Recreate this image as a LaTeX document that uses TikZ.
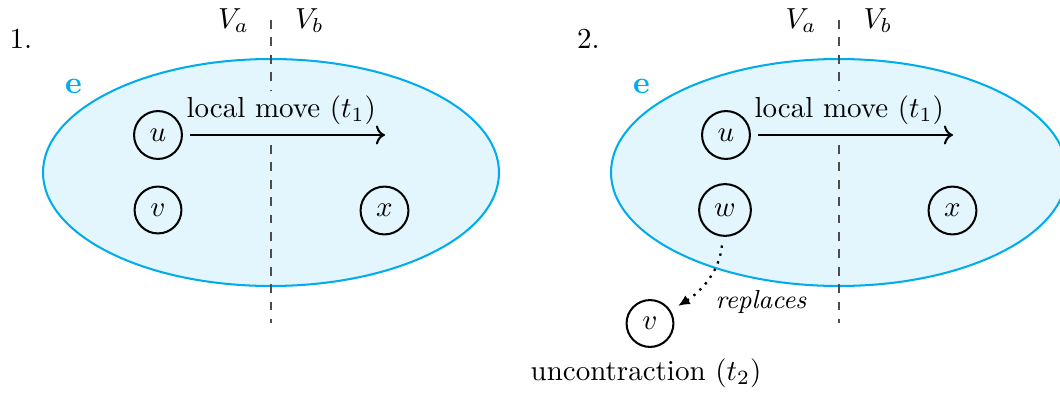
\documentclass[tikz,border=0pt]{standalone}
\usetikzlibrary{arrows.meta}
\definecolor{eblue}{RGB}{0,172,236}
\begin{document}
\begin{tikzpicture}[x=0.3448pt,y=-0.3448pt,
  vert/.style={circle,draw,line width=0.7pt,inner sep=3.33pt},
  hyper/.style={draw=eblue,fill=eblue!11,line width=0.7pt},
  sepline/.style={dashed,line width=0.5pt,draw=black!70},
  move/.style={->,line width=0.7pt,shorten <=2.4pt},
  repl/.style={dotted,line width=0.8pt,-{Latex[length=4pt,width=3.6pt]},shorten <=3pt,shorten >=3pt},
  lbl/.style={anchor=base,inner sep=0pt},
  elbl/.style={lbl,text=eblue,font=\fontsize{11}{13}\selectfont},
]
\useasboundingbox (0,0) rectangle (1060,395);
\clip (0,0) rectangle (1060,395);

% ---------- panel 1 ----------
\draw[hyper] (271,172.5) ellipse [x radius=228, y radius=113.5];
\draw[sepline] (271,20) -- (271,90);
\draw[sepline] (271,145) -- (271,323);
\node[lbl] (n1) at (21,48) {1.};
\node[lbl] (va1) at (233.5,28) {$V_a$};
\node[lbl] (vb1) at (309.5,28) {$V_b$};
\node[elbl] (e1) at (73.5,93) {$\mathbf{e}$};
\node[vert] (u1) at (158,135) {$u$};
\node[vert] (v1) at (158,210) {$v$};
\node[vert] (x1) at (384.5,210.5) {$x$};
\coordinate (t1a) at (385,135);
\draw[move] (u1) -- (t1a);
\node[lbl] (lm1) at (281.3,117) {local move ($t_1$)};

% ---------- panel 2 ----------
\draw[hyper] (839,172.5) ellipse [x radius=228, y radius=113.5];
\draw[sepline] (839,20) -- (839,90);
\draw[sepline] (839,145) -- (839,323);
\node[lbl] (n2) at (588.5,48) {2.};
\node[lbl] (va2) at (801,28) {$V_a$};
\node[lbl] (vb2) at (878,28) {$V_b$};
\node[elbl] (e2) at (641.5,93) {$\mathbf{e}$};
\node[vert] (u2) at (726,135) {$u$};
\node[vert] (w2) at (725,210) {$w$};
\node[vert] (x2) at (952.5,210.5) {$x$};
\node[vert] (v2) at (650,323.5) {$v$};
\coordinate (t1b) at (953,135);
\draw[move] (u2) -- (t1b);
\node[lbl] (lm2) at (849.3,117) {local move ($t_1$)};
\draw[repl] (w2) to[out=-95,in=32] (v2);
\node[lbl,font=\small\itshape] (rp) at (761,308) {replaces};
\node[lbl] (unc) at (646,380) {uncontraction ($t_2$)};
\end{tikzpicture}
\end{document}
